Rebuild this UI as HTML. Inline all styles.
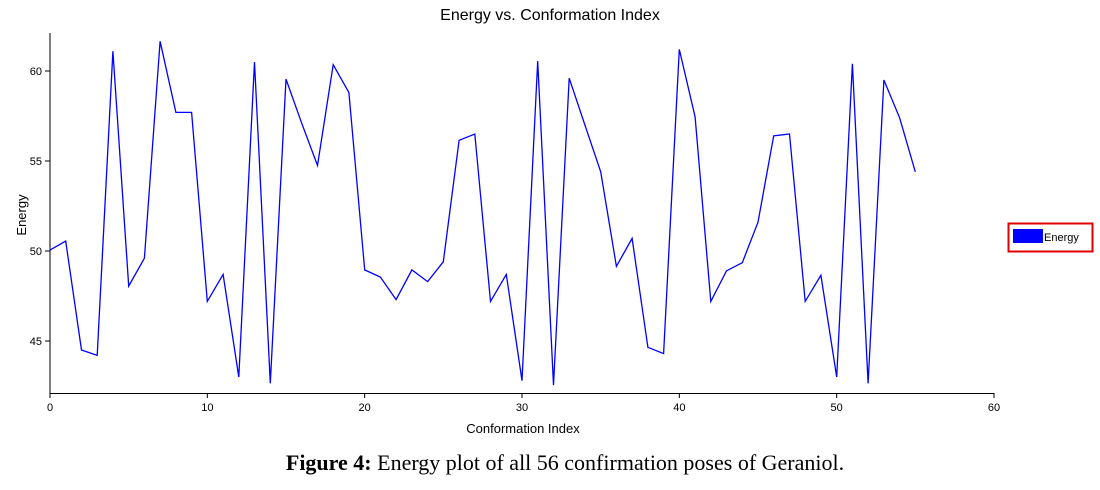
<!DOCTYPE html>
<html><head><meta charset="utf-8">
<style>
body{margin:0;background:#fff;width:1100px;height:490px;overflow:hidden;font-family:"Liberation Sans",Arial,sans-serif}
svg{position:absolute;left:0;top:0}
</style></head>
<body>
<svg width="1100" height="490">
<text x="550" y="20" text-anchor="middle" font-size="16">Energy vs. Conformation Index</text>
<g id="axes"></g>
<path id="line" fill="none" stroke="#0000ff" stroke-width="1.3"/>
<text x="523" y="433" text-anchor="middle" font-size="13">Conformation Index</text>
<text transform="translate(26,215) rotate(-90)" text-anchor="middle" font-size="13">Energy</text>
<g>
<rect x="1008.5" y="223.5" width="84" height="28" fill="none" stroke="#e00000" stroke-width="2"/>
<rect x="1013" y="229" width="30" height="14" fill="#0000ff"/>
<text x="1044" y="241" font-size="11">Energy</text>
</g>
<text x="565" y="470" text-anchor="middle" font-family="'Liberation Serif',serif" font-size="22"><tspan font-weight="bold">Figure 4:</tspan> Energy plot of all 56 confirmation poses of Geraniol.</text>
</svg>
<script>
const energy=[50.05,50.55,44.5,44.2,61.1,48.05,49.6,61.65,57.7,57.7,47.2,48.7,43.0,60.5,42.65,59.55,57.1,54.75,60.35,58.8,48.95,48.55,47.3,48.95,48.3,49.4,56.15,56.5,47.2,48.7,42.8,60.55,42.55,59.6,57.0,54.4,49.15,50.7,44.65,44.3,61.2,57.45,47.2,48.9,49.35,51.6,56.4,56.5,47.2,48.65,43.0,60.4,42.65,59.5,57.4,54.4];
const xTicks=[0,10,20,30,40,50,60];
const yTicks=[45,50,55,60];
const X=v=>50+v*(944/60);
const Y=v=>71+(60-v)*18;
const ns="http://www.w3.org/2000/svg";
const ax=document.getElementById('axes');
function mk(t,a){const e=document.createElementNS(ns,t);for(const k in a)e.setAttribute(k,a[k]);ax.appendChild(e);return e;}
let e=mk('line',{x1:50,y1:33,x2:50,y2:393.5,stroke:'#000'});


e=mk('line',{x1:50,y1:393.5,x2:994,y2:393.5,stroke:'#000'});


xTicks.forEach(t=>{
 const tk=mk('line',{x1:X(t),y1:393,x2:X(t),y2:398,stroke:'#000'});
 
 
 const tx=mk('text',{x:X(t),y:411,'text-anchor':'middle','font-size':11});
 tx.textContent=t;
 
 
});
yTicks.forEach(t=>{
 const tk=mk('line',{x1:45,y1:Y(t),x2:50,y2:Y(t),stroke:'#000'});
 
 
 const tx=mk('text',{x:42,y:Y(t)+4,'text-anchor':'end','font-size':11});
 tx.textContent=t;
 
 
});
document.getElementById('line').setAttribute('d',energy.map((v,i)=>(i?'L':'M')+X(i).toFixed(1)+','+Y(v).toFixed(1)).join(''));
</script>
</body></html>
